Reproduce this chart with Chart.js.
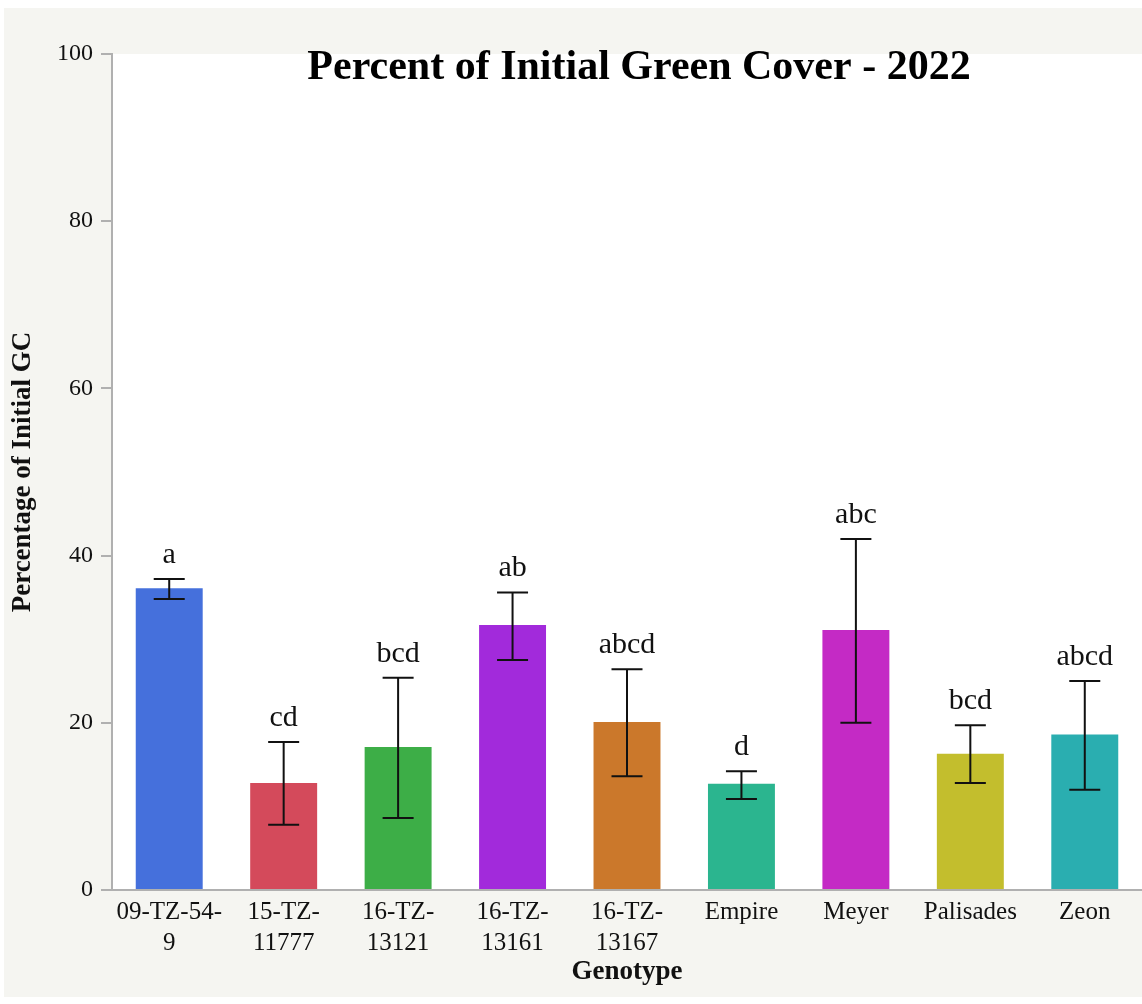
<!DOCTYPE html>
<html>
<head>
<meta charset="utf-8">
<script src="https://cdn.jsdelivr.net/npm/chart.js@4"></script>
<style>
  html, body { margin: 0; padding: 0; background: #ffffff; }
  #wrap { position: absolute; left: 4px; top: 8px; width: 1138px; height: 989px; background: #f5f5f1; }
</style>
</head>
<body>
<div id="wrap"><canvas id="gcChart"></canvas></div>
<script>
const genotypes = [["09-TZ-54-", "9"], ["15-TZ-", "11777"], ["16-TZ-", "13121"], ["16-TZ-", "13161"],
  ["16-TZ-", "13167"], "Empire", "Meyer", "Palisades", "Zeon"];
const meanGC = [36.1, 12.8, 17.1, 31.7, 20.1, 12.7, 31.1, 16.3, 18.6];
const upperGC = [37.2, 17.7, 25.4, 35.6, 26.4, 14.2, 42.0, 19.7, 25.0];
const lowerGC = [34.8, 7.8, 8.6, 27.5, 13.6, 10.9, 20.0, 12.8, 12.0];
const letters = ["a", "cd", "bcd", "ab", "abcd", "d", "abc", "bcd", "abcd"];
const yTicks = [0, 20, 40, 60, 80, 100];
const barColors = ["#4570dc", "#d44a5b", "#3dae47", "#a22adb", "#cb782b", "#2bb58f", "#c42ac5", "#c3be2d", "#2aaeb0"];

const serif = "'Liberation Serif', 'Times New Roman', serif";

// white plot area + error bars + letters + title
const decor = {
  id: "decor",
  beforeDraw(chart) {
    const a = chart.chartArea, c = chart.ctx;
    c.save();
    c.fillStyle = "#ffffff";
    c.fillRect(a.left, a.top, a.right - a.left, a.bottom - a.top);
    c.restore();
  },
  afterDatasetsDraw(chart) {
    const c = chart.ctx, x = chart.scales.x, y = chart.scales.y;
    c.save();
    c.strokeStyle = "#111";
    c.lineWidth = 2;
    meanGC.forEach((v, i) => {
      const cx = x.getPixelForValue(i);
      const yt = y.getPixelForValue(upperGC[i]);
      const yb = y.getPixelForValue(lowerGC[i]);
      c.beginPath();
      c.moveTo(cx, yt); c.lineTo(cx, yb);
      c.moveTo(cx - 15.5, yt); c.lineTo(cx + 15.5, yt);
      c.moveTo(cx - 15.5, yb); c.lineTo(cx + 15.5, yb);
      c.stroke();
      c.fillStyle = "#111";
      c.font = "30px " + serif;
      c.textAlign = "center";
      c.textBaseline = "alphabetic";
      c.fillText(letters[i], cx, yt - 16);
    });
    c.font = "bold 42px " + serif;
    c.textAlign = "center";
    c.textBaseline = "middle";
    c.fillStyle = "#000";
    c.fillText("Percent of Initial Green Cover - 2022", 635, 60);
    c.restore();
  }
};

new Chart(document.getElementById("gcChart"), {
  type: "bar",
  data: {
    labels: genotypes,
    datasets: [{
      data: meanGC,
      backgroundColor: barColors,
      borderWidth: 0,
      barPercentage: 0.585,
      categoryPercentage: 1
    }]
  },
  options: {
    responsive: true,
    maintainAspectRatio: false,
    animation: false,
    layout: { padding: { top: 46, right: 0, left: 0, bottom: 0 } },
    plugins: { legend: { display: false }, tooltip: { enabled: false } },
    scales: {
      x: {
        grid: { display: false },
        border: { color: "#b0b0b0", width: 2 },
        ticks: { color: "#111", font: { family: serif, size: 25, lineHeight: 1.24 }, padding: -1, maxRotation: 0, autoSkip: false },
        title: { display: true, text: "Genotype", color: "#111", font: { family: serif, size: 27, weight: "bold" }, padding: { top: 0, bottom: 9 } },
        afterFit: s => { s.height = 107; }
      },
      y: {
        min: 0,
        max: 100,
        afterBuildTicks: s => { s.ticks = yTicks.map(v => ({ value: v })); },
        grid: { drawOnChartArea: false, tickLength: 11, color: "#b0b0b0", lineWidth: 2 },
        border: { color: "#b0b0b0", width: 2 },
        ticks: { color: "#111", font: { family: serif, size: 24 }, padding: 8 },
        title: { display: true, text: "Percentage of Initial GC", color: "#111", font: { family: serif, size: 27, weight: "bold" }, padding: { top: 3, bottom: 0 } },
        afterFit: s => { s.width = 108; }
      }
    }
  },
  plugins: [decor]
});
</script>
</body>
</html>
